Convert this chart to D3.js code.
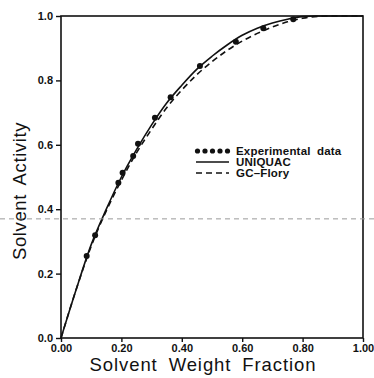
<!DOCTYPE html>
<html><head><meta charset="utf-8">
<script src="https://cdn.jsdelivr.net/npm/d3@7"></script>
<style>
html,body{margin:0;padding:0;background:#fff;}
svg{display:block;}
</style></head>
<body>
<svg id="c" width="374" height="378"></svg>
<script>
// Experimental data
const expX = [0.085, 0.113, 0.190, 0.204, 0.239, 0.255, 0.311, 0.363, 0.460, 0.579, 0.670, 0.769];
const expY = [0.255, 0.319, 0.482, 0.513, 0.565, 0.603, 0.684, 0.748, 0.845, 0.920, 0.962, 0.990];
// Model curves
const curveX    = [0, 0.05, 0.10, 0.15, 0.20, 0.25, 0.30, 0.35, 0.40, 0.45, 0.50, 0.55, 0.60, 0.65, 0.70, 0.75, 0.80, 0.85, 0.90, 0.95, 1.00];
const uniquacY  = [0, 0.150, 0.290, 0.400, 0.500, 0.585, 0.662, 0.730, 0.785, 0.835, 0.875, 0.910, 0.940, 0.962, 0.978, 0.990, 0.998, 1.0, 1.0, 1.0, 1.0];
const gcFloryY  = [0, 0.150, 0.285, 0.395, 0.490, 0.575, 0.648, 0.715, 0.770, 0.818, 0.858, 0.893, 0.922, 0.946, 0.966, 0.982, 0.993, 0.999, 1.0, 1.0, 1.0];
const xTicks = [0, 0.2, 0.4, 0.6, 0.8, 1.0];
const yTicks = [0, 0.2, 0.4, 0.6, 0.8, 1.0];
const legendLabels = ["Experimental data", "UNIQUAC", "GC\u2013Flory"];
const refLineY = 0.37;

const svg = d3.select("#c");
const L = 61, R = 363, T = 16, B = 338;
const x = d3.scaleLinear().domain([0, 1]).range([L, R]);
const y = d3.scaleLinear().domain([0, 1]).range([B, T]);

const ink = "#111";
const tickFont = "'Liberation Sans', Arial, sans-serif";

// frame
svg.append("rect").attr("x", L).attr("y", T).attr("width", R - L).attr("height", B - T)
  .attr("fill", "none").attr("stroke", ink).attr("stroke-width", 1.6);

// axes
const xAxis = d3.axisBottom(x).tickValues(xTicks).tickFormat(d3.format(".2f")).tickSize(4).tickPadding(2);
const gx = svg.append("g").attr("transform", `translate(0,${B})`).call(xAxis);
const yAxis = d3.axisLeft(y).tickValues(yTicks).tickFormat(d3.format(".1f")).tickSize(5).tickPadding(3);
const gy = svg.append("g").attr("transform", `translate(${L},0)`).call(yAxis);
[gx, gy].forEach(g => {
  g.select(".domain").remove();
  g.selectAll(".tick line").attr("stroke", ink).attr("stroke-width", 1.4);
  g.selectAll(".tick text").attr("fill", ink).attr("font-family", tickFont)
    .attr("font-size", 11).attr("font-weight", "bold");
});

// axis titles
svg.append("text").attr("x", 203).attr("y", 371).attr("text-anchor", "middle")
  .attr("font-family", "'Liberation Sans', Arial, sans-serif").attr("font-size", 18.5)
  .attr("fill", ink).attr("letter-spacing", 0.9).attr("word-spacing", 5).text("Solvent Weight Fraction");
svg.append("text").attr("transform", "translate(26,191) rotate(-90)").attr("text-anchor", "middle")
  .attr("font-family", "'Liberation Sans', Arial, sans-serif").attr("font-size", 18.5)
  .attr("fill", ink).attr("letter-spacing", 0.6).attr("word-spacing", 4).text("Solvent Activity");

// curves
const line = d3.line().x(d => x(d[0])).y(d => y(d[1])).curve(d3.curveMonotoneX);
svg.append("path").datum(curveX.map((v, i) => [v, gcFloryY[i]]))
  .attr("d", line).attr("fill", "none").attr("stroke", ink).attr("stroke-width", 1.6)
  .attr("stroke-dasharray", "6,4");
svg.append("path").datum(curveX.map((v, i) => [v, uniquacY[i]]))
  .attr("d", line).attr("fill", "none").attr("stroke", ink).attr("stroke-width", 1.6);

// points
svg.append("g").selectAll("circle").data(expX.map((v, i) => [v, expY[i]])).join("circle")
  .attr("cx", d => x(d[0])).attr("cy", d => y(d[1])).attr("r", 3).attr("fill", ink);

// legend
const lg = svg.append("g");
const lx0 = 196, lx1 = 229, tx = 236, rows = [151, 162, 173];
d3.range(5).forEach(i => lg.append("circle").attr("cx", lx0 + 1.5 + i * (lx1 - lx0 - 3) / 4)
  .attr("cy", rows[0]).attr("r", 2.6).attr("fill", ink));
lg.append("line").attr("x1", lx0).attr("x2", lx1).attr("y1", rows[1]).attr("y2", rows[1])
  .attr("stroke", ink).attr("stroke-width", 1.6);
lg.append("line").attr("x1", lx0).attr("x2", lx1).attr("y1", rows[2]).attr("y2", rows[2])
  .attr("stroke", ink).attr("stroke-width", 1.6).attr("stroke-dasharray", "6,4");
legendLabels.forEach((t, i) => lg.append("text").attr("x", tx).attr("y", rows[i] + 4)
  .attr("font-family", "'Liberation Sans', Arial, sans-serif")
  .attr("font-size", 11.5).attr("font-weight", "bold").attr("letter-spacing", 0.2)
  .attr("word-spacing", 3).attr("fill", ink).text(t));

// gray dashed reference line across the whole image
svg.append("line").attr("x1", 0).attr("x2", 374).attr("y1", y(refLineY)).attr("y2", y(refLineY))
  .attr("stroke", "#999").attr("stroke-width", 1).attr("stroke-dasharray", "5,4");
</script>
</body></html>
